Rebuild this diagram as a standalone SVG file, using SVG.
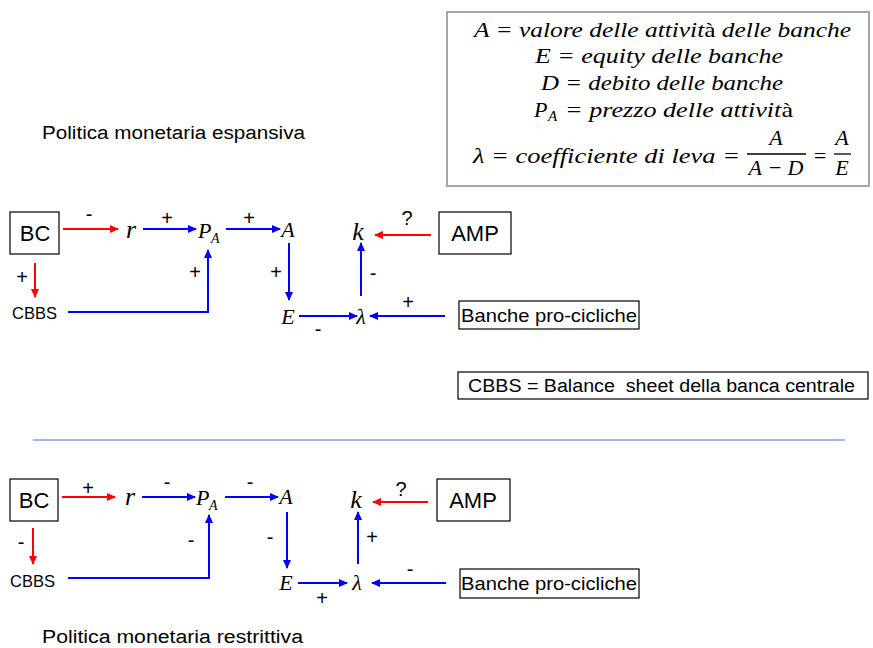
<svg xmlns="http://www.w3.org/2000/svg" width="873" height="648" viewBox="0 0 873 648">
  <style>
    .sans { font-family: "Liberation Sans", Arial, sans-serif; fill: #000; }
    .math { font-family: "Liberation Serif", "Times New Roman", serif; font-style: italic; fill: #000; }
    .up { font-style: normal; }
    .box { fill: #fff; stroke: #000; stroke-width: 1.2; }
    .sign { font-family: "Liberation Sans", Arial, sans-serif; font-size: 20px; text-anchor: middle; fill: #000; }
    .red { stroke: #ff0000; stroke-width: 2; fill: none; marker-end: url(#ahRed); }
    .blue { stroke: #0000ff; stroke-width: 2; fill: none; marker-end: url(#ahBlue); }
    .var { font-size: 22px; text-anchor: middle; }
    .leg { font-size: 22px; }
  </style>
  <defs>
    <marker id="ahRed" markerUnits="userSpaceOnUse" markerWidth="9" markerHeight="8" refX="8" refY="4" orient="auto">
      <path d="M0,0 L9,4 L0,8 z" fill="#ff0000"/>
    </marker>
    <marker id="ahBlue" markerUnits="userSpaceOnUse" markerWidth="9" markerHeight="8" refX="8" refY="4" orient="auto">
      <path d="M0,0 L9,4 L0,8 z" fill="#0000ff"/>
    </marker>
  </defs>

  <rect width="873" height="648" fill="#fff"/>

  <!-- Legend of symbols -->
  <g id="legend">
    <rect x="447" y="12" width="422" height="174" fill="#fff" stroke="#a6a6a6" stroke-width="2"/>
    <text class="math leg" x="474" y="37" textLength="377" lengthAdjust="spacingAndGlyphs">A = valore delle attivit<tspan class="up">à</tspan> delle banche</text>
    <text class="math leg" x="535" y="63" textLength="248" lengthAdjust="spacingAndGlyphs">E = equity delle banche</text>
    <text class="math leg" x="541" y="90" textLength="242" lengthAdjust="spacingAndGlyphs">D = debito delle banche</text>
    <text class="math leg" x="534" y="117">P</text>
    <text class="math" font-size="15" x="548" y="121">A</text>
    <text class="math leg" x="565" y="117" textLength="228" lengthAdjust="spacingAndGlyphs">= prezzo delle attivit<tspan class="up">à</tspan></text>
    <text class="math leg" x="473" y="163" textLength="267" lengthAdjust="spacingAndGlyphs">λ = coefficiente di leva =</text>
    <text class="math leg" x="776" y="145" text-anchor="middle">A</text>
    <line x1="747" y1="154" x2="806" y2="154" stroke="#000" stroke-width="1.3"/>
    <text class="math leg" x="776" y="175" text-anchor="middle">A − D</text>
    <text class="math leg" x="820" y="163" text-anchor="middle">=</text>
    <text class="math leg" x="842" y="145" text-anchor="middle">A</text>
    <line x1="834" y1="154" x2="851" y2="154" stroke="#000" stroke-width="1.3"/>
    <text class="math leg" x="842" y="175" text-anchor="middle">E</text>
  </g>

  <text id="title-expansive" class="sans" font-size="18" x="42" y="139" textLength="263" lengthAdjust="spacingAndGlyphs">Politica monetaria espansiva</text>

  <g id="cbbs-note">
    <rect class="box" x="458" y="372" width="410" height="27"/>
    <text class="sans" font-size="18" x="468" y="392" textLength="387" lengthAdjust="spacingAndGlyphs" xml:space="preserve">CBBS = Balance  sheet della banca centrale</text>
  </g>

  <line id="divider" x1="33" y1="440" x2="845" y2="440" stroke="#4472c4" stroke-width="1"/>

  <!-- Expansive policy: nodes -->
  <g id="top-BC"><rect class="box" x="10" y="212" width="49" height="42"/><text class="sans" font-size="22" x="35" y="241" text-anchor="middle">BC</text></g>
  <g id="top-r"><text class="math" font-size="26" x="131" y="238" text-anchor="middle">r</text></g>
  <g id="top-PA"><text class="math" font-size="22" x="198" y="238">P</text><text class="math" font-size="14" x="211" y="243">A</text></g>
  <g id="top-A"><text class="math var" x="288" y="237">A</text></g>
  <g id="top-E"><text class="math var" x="288" y="324">E</text></g>
  <g id="top-lambda"><text class="math var" x="361" y="324">λ</text></g>
  <g id="top-k"><text class="math" font-size="26" x="358" y="240" text-anchor="middle">k</text></g>
  <g id="top-AMP"><rect class="box" x="439" y="212" width="72" height="42"/><text class="sans" font-size="22" x="475" y="241" text-anchor="middle">AMP</text></g>
  <g id="top-banche"><rect class="box" x="459" y="301" width="180" height="28"/><text class="sans" font-size="19" x="549" y="322" text-anchor="middle" textLength="176" lengthAdjust="spacingAndGlyphs">Banche pro-cicliche</text></g>
  <g id="top-CBBS"><text class="sans" font-size="17" x="12" y="319" textLength="45" lengthAdjust="spacingAndGlyphs">CBBS</text></g>

  <!-- Expansive policy: connectors -->
  <g id="top-links">
    <line class="red" x1="63" y1="229" x2="118" y2="229"/>
    <line class="blue" x1="143" y1="229" x2="196" y2="229"/>
    <line class="blue" x1="226" y1="229" x2="280" y2="229"/>
    <line class="blue" x1="289" y1="243" x2="289" y2="300"/>
    <line class="blue" x1="299" y1="316" x2="357" y2="316"/>
    <line class="blue" x1="445" y1="316" x2="370" y2="316"/>
    <line class="blue" x1="361" y1="296" x2="361" y2="243"/>
    <line class="red" x1="431" y1="235" x2="375" y2="235"/>
    <line class="red" x1="35" y1="263" x2="35" y2="297"/>
    <polyline class="blue" points="68,312 208,312 208,250"/>
    <text class="sign" x="89" y="221">-</text>
    <text class="sign" x="167" y="225">+</text>
    <text class="sign" x="249" y="225">+</text>
    <text class="sign" x="276" y="279">+</text>
    <text class="sign" x="318" y="336">-</text>
    <text class="sign" x="408" y="309">+</text>
    <text class="sign" x="373" y="280">-</text>
    <text class="sign" x="407" y="225">?</text>
    <text class="sign" x="22" y="284">+</text>
    <text class="sign" x="195" y="279">+</text>
  </g>

  <!-- Restrictive policy: nodes -->
  <g id="bot-BC"><rect class="box" x="10" y="479" width="48" height="42"/><text class="sans" font-size="22" x="34" y="508" text-anchor="middle">BC</text></g>
  <g id="bot-r"><text class="math" font-size="26" x="130" y="505" text-anchor="middle">r</text></g>
  <g id="bot-PA"><text class="math" font-size="22" x="196" y="505">P</text><text class="math" font-size="14" x="209" y="510">A</text></g>
  <g id="bot-A"><text class="math var" x="286" y="504">A</text></g>
  <g id="bot-E"><text class="math var" x="286" y="590">E</text></g>
  <g id="bot-lambda"><text class="math var" x="357" y="590">λ</text></g>
  <g id="bot-k"><text class="math" font-size="26" x="356" y="508" text-anchor="middle">k</text></g>
  <g id="bot-AMP"><rect class="box" x="437" y="479" width="73" height="42"/><text class="sans" font-size="22" x="473" y="508" text-anchor="middle">AMP</text></g>
  <g id="bot-banche"><rect class="box" x="460" y="569" width="179" height="29"/><text class="sans" font-size="19" x="549" y="590" text-anchor="middle" textLength="176" lengthAdjust="spacingAndGlyphs">Banche pro-cicliche</text></g>
  <g id="bot-CBBS"><text class="sans" font-size="17" x="10" y="587" textLength="45" lengthAdjust="spacingAndGlyphs">CBBS</text></g>

  <!-- Restrictive policy: connectors -->
  <g id="bot-links">
    <line class="red" x1="62" y1="497" x2="115" y2="497"/>
    <line class="blue" x1="142" y1="497" x2="195" y2="497"/>
    <line class="blue" x1="225" y1="497" x2="278" y2="497"/>
    <line class="blue" x1="287" y1="512" x2="287" y2="568"/>
    <line class="blue" x1="298" y1="583" x2="347" y2="583"/>
    <line class="blue" x1="446" y1="583" x2="372" y2="583"/>
    <line class="blue" x1="358" y1="564" x2="358" y2="512"/>
    <line class="red" x1="428" y1="502" x2="373" y2="502"/>
    <line class="red" x1="33" y1="528" x2="33" y2="564"/>
    <polyline class="blue" points="68,578 209,578 209,515"/>
    <text class="sign" x="88" y="495">+</text>
    <text class="sign" x="167" y="489">-</text>
    <text class="sign" x="250" y="489">-</text>
    <text class="sign" x="270" y="544">-</text>
    <text class="sign" x="322" y="605">+</text>
    <text class="sign" x="410" y="576">-</text>
    <text class="sign" x="372" y="544">+</text>
    <text class="sign" x="401" y="496">?</text>
    <text class="sign" x="21" y="549">-</text>
    <text class="sign" x="191" y="547">-</text>
  </g>

  <text id="title-restrictive" class="sans" font-size="18" x="42" y="643" textLength="261" lengthAdjust="spacingAndGlyphs">Politica monetaria restrittiva</text>
</svg>
